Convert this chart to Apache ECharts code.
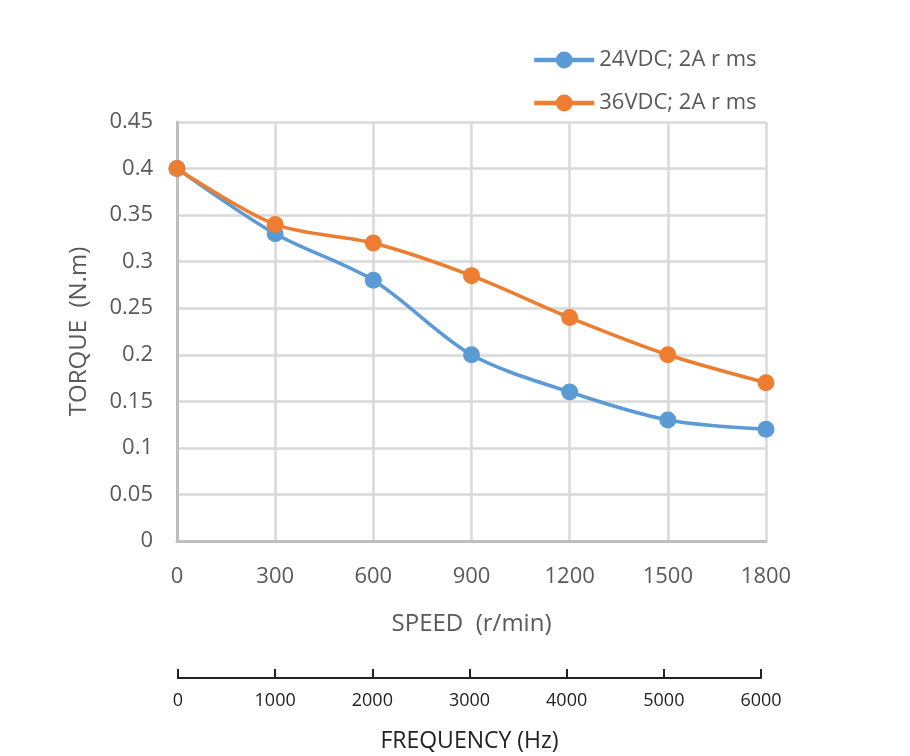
<!DOCTYPE html>
<html>
<head>
<meta charset="utf-8">
<title>Torque vs speed</title>
<script src="https://cdn.jsdelivr.net/npm/echarts@6/dist/echarts.min.js"></script>
<style>
html, body { margin: 0; padding: 0; background: #fff; }
#main { width: 910px; height: 756px; }
</style>
</head>
<body>
<div id="main"></div>
<script>
// speed categories (r/min) and frequency ticks (Hz)
var speeds = ['0', '300', '600', '900', '1200', '1500', '1800'];
var freqTicks = [0, 1000, 2000, 3000, 4000, 5000, 6000];

// torque readings (N.m)
var torque24 = [0.40, 0.33, 0.28, 0.20, 0.16, 0.13, 0.12];
var torque36 = [0.40, 0.34, 0.32, 0.285, 0.24, 0.20, 0.17];

var seriesNames = ['24VDC; 2A r ms', '36VDC; 2A r ms'];

var chart = echarts.init(document.getElementById('main'));
var font = '"Open Sans", "Noto Sans", sans-serif';
var gridColor = '#d9d9d9';
var axisColor = '#bfbfbf';

var option = {
    animation: false,
    textStyle: { fontFamily: font },
    legend: {
        orient: 'vertical',
        left: 527,
        top: 44,
        itemWidth: 60,
        itemHeight: 21,
        itemGap: 21,
        lineStyle: { width: 4.5 },
        textStyle: { fontSize: 22, color: '#595959', fontFamily: font },
        data: seriesNames
    },
    grid: [
        { left: 177, right: 144, top: 122, bottom: 215, containLabel: false },
        { left: 178, right: 149, top: 677, height: 1, containLabel: false }
    ],
    xAxis: [{
        gridIndex: 0,
        type: 'category',
        boundaryGap: false,
        data: speeds,
        name: 'SPEED  (r/min)',
        nameLocation: 'middle',
        nameGap: 71,
        nameTextStyle: { fontSize: 24, color: '#595959', fontFamily: font },
        axisLine: { lineStyle: { color: axisColor, width: 3 } },
        axisTick: { show: false },
        axisLabel: { fontSize: 22, color: '#595959', margin: 25 },
        splitLine: { show: true, lineStyle: { color: gridColor, width: 2.5 } }
    }, {
        gridIndex: 1,
        type: 'value',
        min: 0,
        max: 6000,
        interval: 1000,
        position: 'bottom',
        name: 'FREQUENCY (Hz)',
        nameLocation: 'middle',
        nameGap: 52,
        nameTextStyle: { fontSize: 23, color: '#222', fontFamily: font },
        axisLine: { lineStyle: { color: '#222', width: 2 } },
        axisTick: { show: true, inside: true, length: 9, lineStyle: { color: '#222', width: 2 } },
        axisLabel: {
            fontSize: 18, color: '#222', margin: 14,
            formatter: function (v) { return freqTicks.indexOf(v) >= 0 ? String(v) : ''; }
        },
        splitLine: { show: false }
    }],
    yAxis: [{
        gridIndex: 0,
        type: 'value',
        min: 0,
        max: 0.45,
        interval: 0.05,
        name: 'TORQUE  (N.m)',
        nameLocation: 'middle',
        nameGap: 86,
        nameRotate: 90,
        nameTextStyle: { fontSize: 24, color: '#595959', fontFamily: font },
        axisLine: { show: true, lineStyle: { color: axisColor, width: 3 } },
        axisTick: { show: false },
        axisLabel: { fontSize: 22, color: '#595959', margin: 24 },
        splitLine: { show: true, lineStyle: { color: gridColor, width: 2.5 } }
    }, {
        gridIndex: 1,
        type: 'value',
        show: false
    }],
    series: [{
        name: seriesNames[0],
        type: 'line',
        xAxisIndex: 0,
        yAxisIndex: 0,
        smooth: 0.3,
        data: torque24,
        symbol: 'circle',
        symbolSize: 17,
        color: '#5b9bd5',
        lineStyle: { width: 3.5, color: '#5b9bd5' },
        itemStyle: { color: '#5b9bd5' }
    }, {
        name: seriesNames[1],
        type: 'line',
        xAxisIndex: 0,
        yAxisIndex: 0,
        smooth: 0.3,
        data: torque36,
        symbol: 'circle',
        symbolSize: 17,
        color: '#ed7d31',
        lineStyle: { width: 3.5, color: '#ed7d31' },
        itemStyle: { color: '#ed7d31' }
    }]
};

chart.setOption(option);
</script>
</body>
</html>
